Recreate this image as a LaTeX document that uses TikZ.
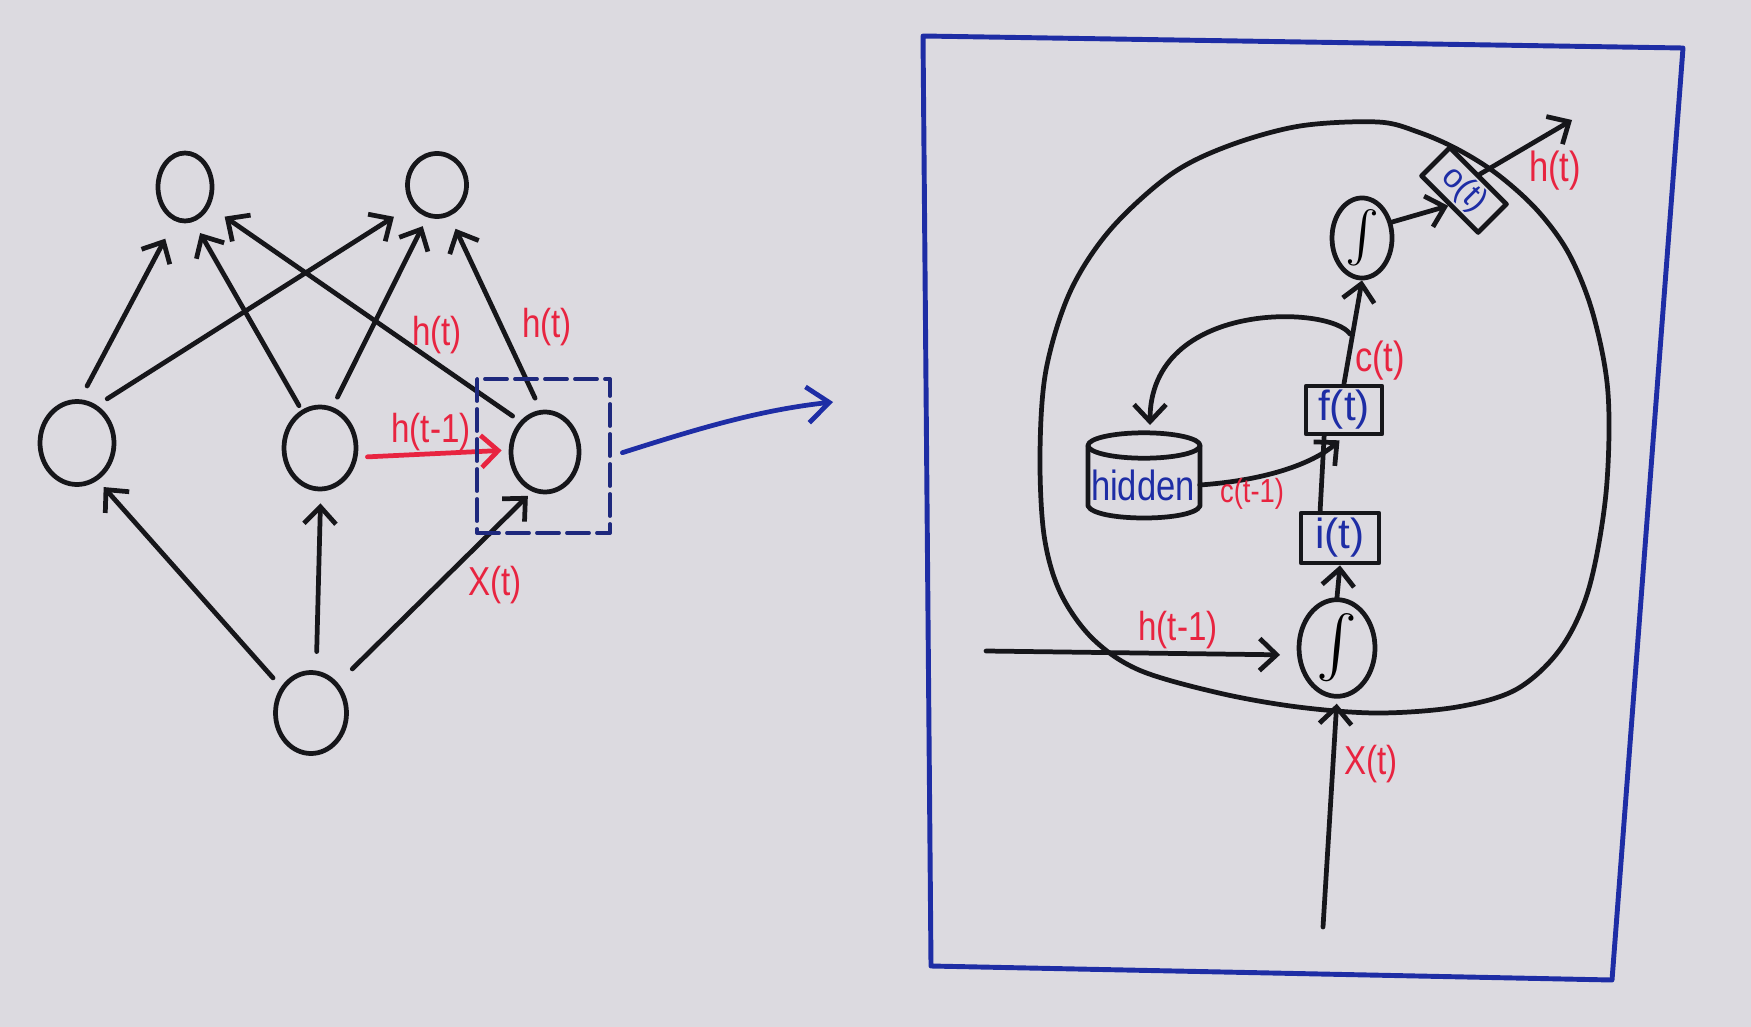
\documentclass[tikz,border=0pt]{standalone}
\usepackage{fontspec}
\usepackage{graphicx}
\setmainfont{Liberation Sans}
\newfontfamily\hand[FakeStretch=0.82]{Liberation Sans}
\newcommand\handsz[1]{\hand\fontsize{#1}{#1}\selectfont}
\newcommand\plainsz[1]{\normalfont\fontsize{#1}{#1}\selectfont}
\usetikzlibrary{arrows.meta,shapes.geometric}
\definecolor{ink}{RGB}{22,22,26}
\definecolor{pblue}{RGB}{30,45,165}
\definecolor{dblue}{RGB}{30,40,125}
\definecolor{pred}{RGB}{232,36,64}
\definecolor{paper}{RGB}{220,218,224}
\begin{document}
\begin{tikzpicture}[x=0.1mm,y=-0.1mm, line cap=round, line join=round,
  pen/.style={draw=ink, line width=1.35pt},
  neuron/.style={ellipse, draw=ink, line width=1.35pt, inner sep=0pt},
  arr/.style={pen, -{Straight Barb[length=1.7mm,width=3.2mm]}},
  redarr/.style={draw=pred, line width=1.35pt, -{Straight Barb[length=1.7mm,width=3.2mm]}},
  lbl/.style={text=pred, font=\handsz{11.5}, inner sep=0pt},
  gate/.style={rectangle, draw=ink, line width=1.35pt, text=pblue, font=\plainsz{12}, inner sep=0pt}
]
\fill[paper] (0,0) rectangle (1751,1027);
\useasboundingbox (0,0) rectangle (1751,1027);

% ---------- left network ----------
\node[neuron, minimum width=5.4mm, minimum height=6.8mm] (T1) at (185,187) {};
\node[neuron, minimum width=5.9mm, minimum height=6.3mm] (T2) at (437,185) {};
\node[neuron, minimum width=7.4mm, minimum height=8.3mm] (M1) at (77,443) {};
\node[neuron, minimum width=7.2mm, minimum height=8.2mm] (M2) at (320,448) {};
\node[neuron, minimum width=6.8mm, minimum height=8.0mm] (M3) at (545,452) {};
\node[neuron, minimum width=7.1mm, minimum height=8.1mm] (B) at (311,713) {};

\draw[arr, shorten <=1.5mm, shorten >=2mm] (M1.86) -- (T1.253);
\draw[arr, shorten <=1.2mm, shorten >=2.1mm] (M1.62) -- (T2.219);
\draw[arr, shorten <=0.5mm, shorten >=1.3mm] (M2.116) -- (T1.284);
\draw[arr, shorten <=1.1mm, shorten >=1mm] (M2.73) -- (T2.253);
\draw[arr, shorten <=0.9mm, shorten >=1.8mm] (M3.129) -- (T1.322);
\draw[arr, shorten <=1.3mm, shorten >=1.4mm] (M3.96) -- (T2.292);
\draw[arr, shorten <=1.2mm, shorten >=0.9mm] (B.139) -- (M1.299);
\draw[arr, shorten <=1.9mm, shorten >=1.2mm] (B.83) -- (M2.271);
\draw[arr, shorten <=2mm, shorten >=0.6mm] (B.48) -- (M3.252);
\draw[redarr, shorten <=1mm, shorten >=0.7mm] (M2.346) -- (M3.177);

\node[lbl] (lh1) at (431,432) {h(t-1)};
\node[lbl] (lh2) at (437,335) {h(t)};
\node[lbl] (lh3) at (547,327) {h(t)};
\node[lbl] (lx) at (495,585) {X(t)};

\node[draw=dblue, line width=1.1pt, dash pattern=on 2.2mm off 0.8mm, minimum width=13.3mm, minimum height=15.4mm, inner sep=0pt] (zoombox) at (543.5,456) {};
\coordinate (zend) at (833,402);
\draw[draw=pblue, line width=1.35pt, -{Straight Barb[length=2.2mm,width=3.6mm]}, shorten <=1.1mm] (zoombox.east) .. controls (700,428) and (760,410) .. (zend);

% ---------- right panel ----------
\draw[draw=pblue, line width=1.4pt] (923,36) -- (1683,48) -- (1612,980) -- (931,966) -- cycle;

\draw[pen] plot[smooth cycle, tension=0.55] coordinates {(1378,122) (1418,132) (1457,149) (1497,174) (1537,210) (1569,254) (1593,314) (1608,393) (1606,493) (1589,588) (1561,648) (1517,689) (1457,707) (1378,713) (1298,707) (1219,693) (1139,670) (1092,638) (1060,592) (1044,535) (1040,453) (1046,370) (1070,292) (1110,230) (1170,175) (1228,146) (1300,126)};

\node[neuron, minimum width=7.6mm, minimum height=8.2mm] (s1) at (1337,648) {\scalebox{1.75}{$\int$}};
\node[neuron, minimum width=6.0mm, minimum height=6.6mm] (s2) at (1362,238) {\scalebox{1.45}{$\int$}};
\node[gate, minimum width=7.8mm, minimum height=5.0mm] (it) at (1340,538) {i(t)};
\node[gate, minimum width=7.6mm, minimum height=4.8mm] (ft) at (1344,410) {f(t)};
\node[gate, rotate=-45, minimum width=8.0mm, minimum height=4.0mm, font=\plainsz{9.5}] (ot) at (1464,190) {o(t)};

% hidden store (cylinder)
\draw[pen] (1144,445.5) ellipse [x radius=56, y radius=12.7];
\draw[pen] (1088,445.5) -- (1088,506) .. controls (1095,522) and (1193,522) .. (1200,506) -- (1200,445.5);
\node[text=pblue, font=\handsz{12}, inner sep=0pt, minimum width=11.2mm, minimum height=6mm] (hid) at (1143,485) {hidden};

\coordinate (xin) at (1323,927);
\coordinate (hin) at (986,651);
\coordinate (hout) at (1572,120);
\coordinate (fb) at (1350,334);
\coordinate (hidtop) at (1150,425);

\draw[arr, shorten >=0.5mm] (xin) -- (s1.south);
\draw[arr, shorten >=1.7mm] (hin) -- (s1.190);
\draw[arr] (s1.north) -- (it.south);
\draw[pen] (it.126) -- (ft.233);
\draw[arr, shorten >=0.6mm] (hid.east) .. controls (1270,480) and (1315,462) .. (ft.south);
\draw[arr] (ft.north) -- (s2.south);
\draw[arr] (fb) .. controls (1330,305) and (1150,300) .. (hidtop);
\draw[arr] (s2.28) -- (ot.south);
\draw[arr] (ot.north) -- (hout);

\node[lbl, font=\handsz{12}] (lho) at (1555,171) {h(t)};
\node[lbl, font=\handsz{12}] (lc) at (1380,361) {c(t)};
\node[lbl, font=\handsz{9.5}] (lc1) at (1252,494) {c(t-1)};
\node[lbl] (lhr) at (1178,630) {h(t-1)};
\node[lbl] (lxr) at (1371,764) {X(t)};
\end{tikzpicture}
\end{document}
